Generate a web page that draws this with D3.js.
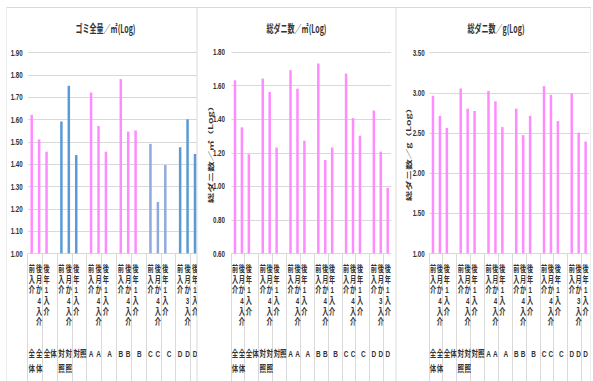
<!DOCTYPE html>
<html><head><meta charset="utf-8">
<script src="https://cdn.jsdelivr.net/npm/d3@7"></script>
<style>body{margin:0;background:#fff}svg{display:block}</style>
</head><body><svg id="c" width="593" height="381"></svg>
<script>
// ---------- data ----------
const groups = ["全体", "対照", "A", "B", "C", "D"];
const timepoints = ["介入前", "介入4か月後", "介入1年後"];
const timepointsD = ["介入前", "介入3か月後", "介入1年後"];

// one value per slot (3 per group, null = empty gap slot between groups)
const gomiValues   = [1.62, 1.51, 1.455, null, 1.59, 1.75, 1.44, null, 1.72, 1.57, 1.455, null,
                      1.78, 1.545, 1.55, null, 1.49, 1.23, 1.395, null, 1.475, 1.60, 1.445];
const daniM2Values = [1.63, 1.35, 1.19, null, 1.64, 1.56, 1.23, null, 1.69, 1.58, 1.27, null,
                      1.73, 1.155, 1.23, null, 1.67, 1.405, 1.30, null, 1.45, 1.205, 0.99];
const daniGValues  = [2.96, 2.71, 2.56, null, 3.05, 2.80, 2.77, null, 3.02, 2.89, 2.57, null,
                      2.80, 2.47, 2.71, null, 3.08, 2.97, 2.645, null, 2.99, 2.50, 2.39];

const gomiTicks   = ["1.00", "1.10", "1.20", "1.30", "1.40", "1.50", "1.60", "1.70", "1.80", "1.90"];
const daniM2Ticks = ["0.60", "0.80", "1.00", "1.20", "1.40", "1.60", "1.80"];
const daniGTicks  = ["1.00", "1.50", "2.00", "2.50", "3.00", "3.50"];

const titles  = ["ゴミ全量／㎡(Log)", "総ダニ数／㎡(Log)", "総ダニ数／g(Log)"];
const yTitles = [null, "総ダニ数／㎡（Log）", "総ダニ数／g（Log）"];

// ---------- styles ----------
const PINK = "#ff8cff", BLUE = "#5b9bd5", LBLUE = "#8faadc";
const gomiColors = {"全体": PINK, "対照": BLUE, "A": PINK, "B": PINK, "C": LBLUE, "D": BLUE};
const allPink = {"全体": PINK, "対照": PINK, "A": PINK, "B": PINK, "C": PINK, "D": PINK};
const CJK = "'Noto Sans CJK JP', sans-serif";
const MIX = "'Liberation Sans', 'Noto Sans CJK JP', sans-serif";
const LAT = "'Liberation Sans', Arial, sans-serif";
const GRID = "#d9d9d9", TXT = "#333333";

// ---------- slots ----------
const slots = [];
groups.forEach((g, gi) => {
  const tps = g === "D" ? timepointsD : timepoints;
  tps.forEach((t, ti) => slots.push({group: g, label: t, ti}));
  if (gi < groups.length - 1) slots.push({group: null, label: "", ti: -1});
});

const charts = [
  {values: gomiValues, ticks: gomiTicks, domain: [1.0, 1.9], colors: gomiColors,
   panel: [6.5, 197], plot: [28, 198.7], top: 52.3, titleX: 105.5, tickGap: 5.3, yTitleX: 0},
  {values: daniM2Values, ticks: daniM2Ticks, domain: [0.6, 1.8], colors: allPink,
   panel: [197, 396], plot: [231.5, 391.2], top: 51.7, titleX: 296.5, tickGap: 6.5, yTitleX: 210},
  {values: daniGValues, ticks: daniGTicks, domain: [1.0, 3.5], colors: allPink,
   panel: [396, 591], plot: [429.5, 589.1], top: 52.3, titleX: 496, tickGap: 4.8, yTitleX: 408}
];

const svg = d3.select("#c");
const defs = svg.append("defs");
const Y0 = 253.3, BOTTOM = 381;

charts.forEach((cfg, i) => {
  defs.append("clipPath").attr("id", "clip" + i)
    .append("rect").attr("x", cfg.panel[0]).attr("y", 0)
    .attr("width", cfg.panel[1] - cfg.panel[0]).attr("height", BOTTOM);

  const root = svg.append("g").attr("clip-path", `url(#clip${i})`);
  // frame
  root.append("rect")
    .attr("x", cfg.panel[0]).attr("y", 7.5)
    .attr("width", cfg.panel[1] - cfg.panel[0]).attr("height", 420)
    .attr("fill", "#fff").attr("stroke", GRID).attr("stroke-width", 1);

  const x = d3.scaleBand().domain(d3.range(slots.length)).range(cfg.plot);
  const y = d3.scaleLinear().domain(cfg.domain).range([Y0, cfg.top]);
  const step = x.step();
  const tickNums = cfg.ticks.map(Number);

  // gridlines
  root.append("g").selectAll("line").data(tickNums).join("line")
    .attr("x1", cfg.plot[0]).attr("x2", cfg.plot[1])
    .attr("y1", d => Math.round(y(d)) + 0.5).attr("y2", d => Math.round(y(d)) + 0.5)
    .attr("stroke", GRID).attr("stroke-width", 1);

  // category separator lines (every 2 slots) through label area
  const seps = d3.range(0, slots.length, 2);
  root.append("g").selectAll("line").data(seps).join("line")
    .attr("x1", k => Math.round(cfg.plot[0] + k * step) - 0.5)
    .attr("x2", k => Math.round(cfg.plot[0] + k * step) - 0.5)
    .attr("y1", Math.round(Y0) + 0.5).attr("y2", BOTTOM)
    .attr("stroke", GRID).attr("stroke-width", 1);

  // bars
  const bw = 2.5;
  const bars = slots.map((s, k) => ({s, k, v: cfg.values[k]})).filter(d => d.v != null);
  root.append("g").selectAll("rect").data(bars).join("rect")
    .attr("x", d => x(d.k) + step / 2 - bw / 2)
    .attr("width", bw)
    .attr("y", d => y(d.v))
    .attr("height", d => y(cfg.domain[0]) - y(d.v))
    .attr("fill", d => cfg.colors[d.s.group]);

  // y axis tick labels
  const sxT = 0.69;
  const ax = root.append("g").attr("transform", `translate(${cfg.plot[0]},0)`)
    .call(d3.axisLeft(y).tickValues(tickNums).tickFormat(d3.format(".2f")).tickSize(0).tickPadding(0));
  ax.select(".domain").remove();
  ax.attr("font-family", null).attr("font-size", null);
  ax.selectAll("text")
    .attr("font-family", LAT).attr("font-size", 9).attr("font-weight", "bold").attr("fill", TXT)
    .attr("x", -cfg.tickGap / sxT)
    .attr("transform", `scale(${sxT},1)`);

  // title
  root.append("text")
    .attr("transform", `translate(${cfg.titleX},33) scale(0.64,1)`)
    .attr("text-anchor", "middle")
    .attr("font-family", CJK).attr("font-size", 11).attr("font-weight", "bold")
    .attr("fill", TXT).text(titles[i]);

  // y-axis title
  if (yTitles[i]) {
    root.append("text")
      .attr("transform", `translate(${cfg.yTitleX},152) scale(0.55,1) rotate(-90)`)
      .attr("text-anchor", "middle").attr("dominant-baseline", "central")
      .attr("font-family", CJK).attr("font-size", 10.5).attr("font-weight", "bold")
      .attr("fill", TXT).text(yTitles[i]);
  }

  // inner (time point) labels: one text each, chars stacked reading bottom-to-top
  const sxL = 0.66, fL = 9.3, pitch = 10.7, topC = 268.3;
  slots.forEach((s, k) => {
    if (!s.label) return;
    const cx = x(k) + step / 2;
    const chars = Array.from(s.label);
    const n = chars.length;
    const t = root.append("text")
      .attr("transform", `translate(${cx},0) scale(${sxL},1)`)
      .attr("text-anchor", "middle")
      .attr("font-family", MIX).attr("font-size", fL).attr("font-weight", "bold")
      .attr("fill", TXT);
    chars.forEach((ch, j) => {
      const yc = topC + (n - 1 - j) * pitch;
      t.append("tspan").attr("x", 0).attr("y", yc + 0.38 * fL).text(ch);
    });
  });

  // outer (group) labels
  const sxG = 0.72, fG = 9;
  slots.forEach((s, k) => {
    if (!s.group) return;
    const span = (s.ti === 2 && k + 1 < slots.length && !slots[k + 1].group) ? 2 : 1;
    const cx = x(k) + span * step / 2;
    const chars = Array.from(s.group);
    const estW = chars.length * fG * sxG;
    const lines = (estW > span * step && chars.length > 1) ? chars : [s.group];
    const t = root.append("text")
      .attr("transform", `translate(${cx},0) scale(${sxG},1)`)
      .attr("text-anchor", "middle")
      .attr("font-family", MIX).attr("font-size", fG).attr("font-weight", "bold")
      .attr("fill", TXT);
    lines.forEach((ln, li) => {
      t.append("tspan").attr("x", 0).attr("y", 357 + li * 15).text(ln);
    });
  });
});
</script></body></html>
